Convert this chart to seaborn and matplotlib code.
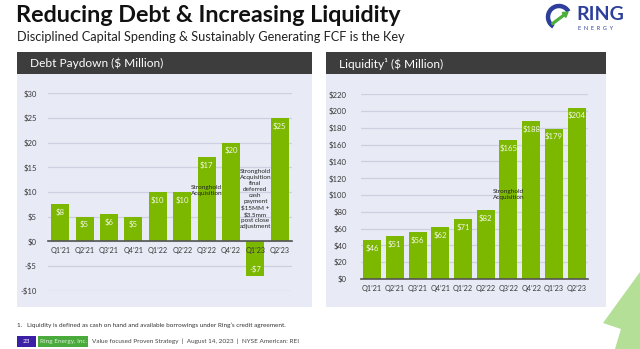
import matplotlib
matplotlib.use("Agg")
import matplotlib.pyplot as plt
import matplotlib.patches as mpatches
import seaborn as sns
import pandas as pd

# ---------------- data ----------------
quarters = ["Q1\u201921", "Q2\u201921", "Q3\u201921", "Q4\u201921", "Q1\u201922",
            "Q2\u201922", "Q3\u201922", "Q4\u201922", "Q1\u201923", "Q2\u201923"]
debt_paydown = [7.5, 5, 5.5, 5, 10, 10, 17, 20, -7, 25]
debt_labels = ["$8", "$5", "$6", "$5", "$10", "$10", "$17", "$20", "-$7", "$25"]
liquidity = [46, 51, 56, 62, 71, 82, 165, 188, 179, 204]
liquidity_labels = ["$46", "$51", "$56", "$62", "$71", "$82", "$165", "$188", "$179", "$204"]
debt_ticks = [-10, -5, 0, 5, 10, 15, 20, 25, 30]
liq_ticks = [0, 20, 40, 60, 80, 100, 120, 140, 160, 180, 200, 220]

title = "Reducing Debt & Increasing Liquidity"
subtitle = "Disciplined Capital Spending & Sustainably Generating FCF is the Key"
left_header = "Debt Paydown ($ Million)"
right_header = "Liquidity\u00b9 ($ Million)"
note_q3 = "Stronghold\nAcquisition"
note_q1_23 = ("Stronghold\nAcquisition\nfinal\ndeferred\ncash\npayment\n$15MM +\n"
              "$3.5mm\npost close\nadjustment")
footnote = "1.   Liquidity is defined as cash on hand and available borrowings under Ring\u2019s credit agreement."
footer = "Value focused Proven Strategy  |  August 14, 2023  |  NYSE American: REI"

# ---------------- style ----------------
sns.set_theme(style="white")
plt.rcParams["font.family"] = ["Lato", "DejaVu Sans"]

GREEN = "#7DB800"
PANEL = "#E8EAF5"
HEADER = "#3D3D3D"
GRID = "#CDD0E0"
TXT = "#3A3A3A"
LABEL = "#F2F7E6"

W, H = 640, 349
fig = plt.figure(figsize=(W / 100, H / 100), dpi=100)
fig.patch.set_facecolor("white")


def fx(x):
    return x / W


def fy(y):
    return 1 - y / H


def rect(x0, y0, x1, y1, color, z=-5):
    fig.patches.append(mpatches.Rectangle((fx(x0), fy(y1)), fx(x1) - fx(x0), fy(y0) - fy(y1),
                                          transform=fig.transFigure, facecolor=color,
                                          edgecolor="none", zorder=z))


# panels and headers
rect(17, 74, 312, 307, PANEL)
rect(326, 74, 606, 307, PANEL)
rect(17, 52, 312, 74, HEADER)
rect(326, 52, 606, 74, HEADER)
fig.text(fx(30), fy(63.5), left_header, color="white", fontsize=8.6, va="center")
fig.text(fx(339), fy(63.5), right_header, color="white", fontsize=8.6, va="center")

# titles
fig.text(fx(16), fy(15), title, fontsize=16.8, fontweight="bold", color="#111111", va="center")
fig.text(fx(17), fy(37), subtitle, fontsize=9.2, color="#222222", va="center")

# logo
logo_ax = fig.add_axes([fx(544), fy(34), fx(100) - fx(4), fy(0) - fy(34)])
logo_ax.set_xlim(0, 96)
logo_ax.set_ylim(34, 0)
logo_ax.axis("off")
logo_ax.add_patch(mpatches.Arc((15, 17), 22, 22, theta1=120, theta2=330, lw=3.2, color="#2D3F9A"))
logo_ax.add_patch(mpatches.FancyArrow(8, 24, 16, -12, width=1.8, head_width=6, head_length=5,
                                      color="#4CAF3A", length_includes_head=True))
logo_ax.text(32, 15, "RING", fontsize=14, fontweight="bold", color="#2D3F9A", va="center", ha="left")
logo_ax.text(34, 28, "E  N  E  R  G  Y", fontsize=4, color="#2D3F9A", va="center", ha="left")


def style_axes(ax, ticks, fmt):
    ax.set_facecolor("none")
    ax.set_yticks(ticks)
    ax.set_yticklabels([fmt(t) for t in ticks])
    ax.yaxis.grid(True, color=GRID, lw=0.9)
    ax.xaxis.grid(False)
    ax.set_axisbelow(True)
    ax.xaxis.set_zorder(3)
    for s in ["left", "right", "top"]:
        ax.spines[s].set_visible(False)
    ax.spines["bottom"].set_color("#555555")
    ax.spines["bottom"].set_linewidth(1.2)
    ax.spines["bottom"].set_zorder(3)
    ax.tick_params(axis="y", length=0, labelsize=5.6, colors=TXT, pad=8)
    ax.tick_params(axis="x", length=0, labelsize=5.2, colors=TXT, pad=4)
    ax.set_xlabel("")
    ax.set_ylabel("")
    ax.set_xlim(-0.5, 9.5)


def money(t):
    return f"-${abs(t)}" if t < 0 else f"${t}"


# ---------------- left chart ----------------
axL = fig.add_axes([fx(48), fy(290.7), fx(292) - fx(48), fy(93.3) - fy(290.7)])
dfL = pd.DataFrame({"quarter": quarters, "value": debt_paydown})
sns.barplot(data=dfL, x="quarter", y="value", color=GREEN, saturation=1, width=0.74,
            ax=axL, linewidth=0)
axL.set_ylim(-10, 30)
style_axes(axL, debt_ticks, money)
axL.spines["bottom"].set_position(("data", 0))
for i, (v, lab) in enumerate(zip(debt_paydown, debt_labels)):
    off = -8 if v >= 0 else 7
    axL.annotate(lab, (i, v), xytext=(0, off * 0.72), textcoords="offset points",
                 ha="center", va="center", color=LABEL, fontsize=5.6)
axL.text(6, 10.3, note_q3, ha="center", va="center", fontsize=4.6, color="#222222",
         linespacing=1.15)
axL.text(8, 8.6, note_q1_23, ha="center", va="center", fontsize=4.6, color="#222222",
         linespacing=1.25)

# ---------------- right chart ----------------
axR = fig.add_axes([fx(360.7), fy(279), fx(588) - fx(360.7), fy(94.3) - fy(279)])
dfR = pd.DataFrame({"quarter": quarters, "value": liquidity})
sns.barplot(data=dfR, x="quarter", y="value", color=GREEN, saturation=1, width=0.79,
            ax=axR, linewidth=0)
axR.set_ylim(0, 220)
style_axes(axR, liq_ticks, money)
axR.tick_params(axis="y", pad=10)
for i, (v, lab) in enumerate(zip(liquidity, liquidity_labels)):
    axR.annotate(lab, (i, v), xytext=(0, -8 * 0.72), textcoords="offset points",
                 ha="center", va="center", color=LABEL, fontsize=5.6)
axR.text(6, 101, note_q3, ha="center", va="center", fontsize=4.6, color="#222222",
         linespacing=1.15)

# ---------------- footnote & footer ----------------
fig.text(fx(17), fy(325), footnote, fontsize=4.6, color="#333333", va="center")
rect(17, 336, 36, 347, "#3B1FA5")
fig.text(fx(26.5), fy(341.5), "23", fontsize=4.6, color="white", ha="center", va="center")
rect(38, 336, 88, 347, "#4AAA3C")
fig.text(fx(63), fy(341.5), "Ring Energy, Inc.", fontsize=4.6, color="#DDEEDD", ha="center", va="center")
fig.text(fx(92), fy(341.5), footer, fontsize=4.6, color="#444444", va="center")

# decorative arrow bottom right
arrow = mpatches.Polygon([(fx(615), fy(349)), (fx(621), fy(329)), (fx(603), fy(323)),
                          (fx(640), fy(272)), (fx(640), fy(349))],
                         closed=True, transform=fig.transFigure, facecolor="#B3DF96",
                         edgecolor="none", zorder=-5)
fig.patches.append(arrow)

fig.savefig("out.png", dpi=100, facecolor="white")
